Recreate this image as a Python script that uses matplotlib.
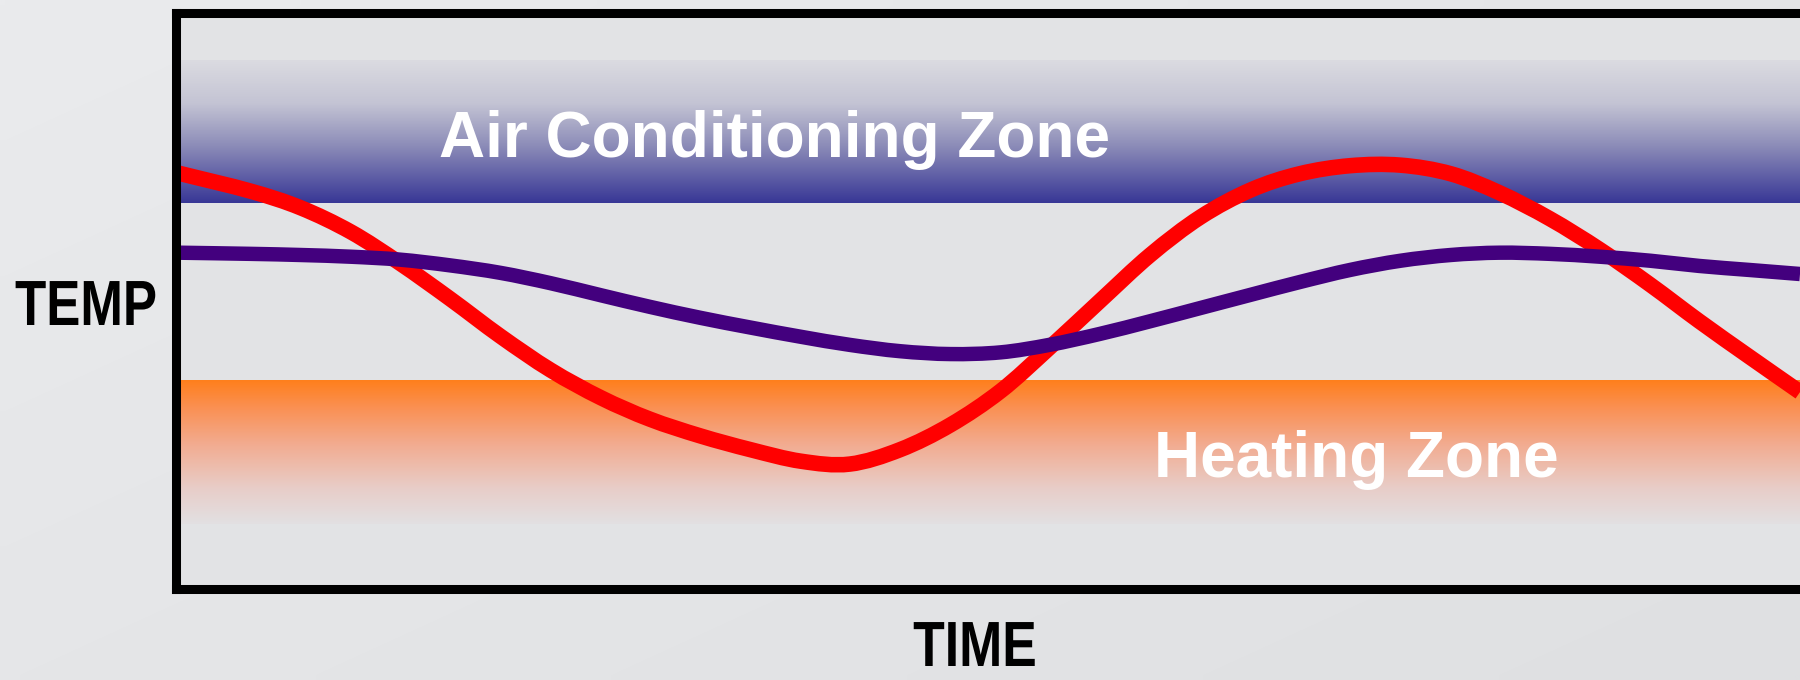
import numpy as np
import matplotlib
matplotlib.use("Agg")
import matplotlib.pyplot as plt
from matplotlib.path import Path
from matplotlib.patches import PathPatch
from matplotlib.patheffects import AbstractPathEffect
from matplotlib.transforms import Affine2D

# ---- data (time 0-100, temperature 0-100, arbitrary units) ----
time = [0.2, 4.6, 7.7, 10.8, 13.8, 16.9, 20.0, 23.1, 26.2, 29.2, 32.3, 35.4, 38.5, 41.5,
        44.6, 47.7, 50.8, 53.8, 56.9, 60.0, 63.1, 66.2, 69.2, 72.3, 75.4, 78.5, 81.5,
        84.6, 87.7, 90.8, 93.8, 96.9, 100.0]
outdoor_temp = [72.1, 69.0, 66.1, 61.9, 56.5, 50.3, 43.8, 37.9, 33.1, 29.4, 26.5, 24.1, 22.1, 21.6,
                24.1, 28.4, 34.3, 41.8, 49.9, 57.9, 64.5, 69.2, 72.0, 73.4, 73.5, 72.0, 68.7,
                64.2, 58.8, 52.7, 46.4, 40.2, 34.1]
indoor_temp = [58.3, 58.1, 57.9, 57.6, 57.1, 56.1, 54.8, 53.0, 50.9, 48.9, 47.0, 45.3, 43.7, 42.3,
               41.2, 40.7, 41.0, 42.3, 44.2, 46.4, 48.7, 51.0, 53.2, 55.3, 56.9, 57.9, 58.3,
               58.1, 57.6, 56.9, 56.0, 55.3, 54.6]

ac_zone = (66.9, 91.7)       # (low, high)
heat_zone = (11.2, 36.1)     # (low, high)

zone_labels = ["Air Conditioning Zone", "Heating Zone"]
zone_label_pos = [(36.9, 74.9), (72.7, 19.4)]
x_label = "TIME"
y_label = "TEMP"


class HStretch(AbstractPathEffect):
    """Draw text glyphs horizontally condensed about their centre."""

    def __init__(self, sx):
        super().__init__()
        self.sx = sx

    def draw_path(self, renderer, gc, tpath, affine, rgbFace=None):
        v = tpath.vertices
        if tpath.codes is not None:
            v = v[tpath.codes != Path.CLOSEPOLY]
        cx = 0.5 * (v[:, 0].min() + v[:, 0].max())
        t = Affine2D().translate(-cx, 0).scale(self.sx, 1.0).translate(cx, 0) + affine
        renderer.draw_path(gc, tpath, t, rgbFace)


def smooth_path(xs, ys):
    """Catmull-Rom curve through the points, as cubic Bezier segments."""
    p = np.column_stack([xs, ys]).astype(float)
    ext = np.vstack([2 * p[0] - p[1], p, 2 * p[-1] - p[-2]])
    verts = [p[0]]
    codes = [Path.MOVETO]
    for i in range(1, len(ext) - 2):
        p0, p1, p2, p3 = ext[i - 1], ext[i], ext[i + 1], ext[i + 2]
        verts += [p1 + (p2 - p0) / 6.0, p2 - (p3 - p1) / 6.0, p2]
        codes += [Path.CURVE4] * 3
    return Path(np.array(verts), codes)


def gradient(stops, n=256):
    pos = np.array([s[0] for s in stops])
    cols = np.array([s[1] for s in stops], dtype=float) / 255.0
    t = np.linspace(0, 1, n)
    rgb = np.stack([np.interp(t, pos, cols[:, i]) for i in range(3)], axis=1)
    return rgb[:, None, :]


# ---- figure ----
fig = plt.figure(figsize=(18, 6.8), dpi=100)
fig.patch.set_facecolor("#e3e4e6")

# subtle background shading of the slide
bg = fig.add_axes([0, 0, 1, 1], zorder=-10)
gy, gx = np.mgrid[0:1:68j, 0:1:180j]
shade = 0.55 * gx + 0.45 * gy
light = np.array([234, 235, 237]) / 255.0
dark = np.array([223, 224, 226]) / 255.0
bg.imshow(light + shade[..., None] * (dark - light), extent=(0, 1, 0, 1),
          origin="upper", aspect="auto", interpolation="bilinear")
bg.set_axis_off()

ax = fig.add_axes([175.5 / 1800, 91.5 / 680, 1 - 175.5 / 1800, 576 / 680])
ax.set_facecolor("#e2e3e5")

blue_grad = gradient([(0.0, (219, 219, 225)), (0.3, (196, 196, 212)),
                      (0.6, (140, 140, 184)), (1.0, (56, 55, 150))])
orange_grad = gradient([(0.0, (255, 127, 28)), (0.2, (250, 145, 85)),
                        (0.45, (242, 172, 145)), (0.75, (232, 205, 200)),
                        (1.0, (226, 224, 226))])

ax.imshow(blue_grad, extent=(0, 100, ac_zone[0], ac_zone[1]), aspect="auto",
          origin="upper", interpolation="bilinear", zorder=1)
ax.imshow(orange_grad, extent=(0, 100, heat_zone[0], heat_zone[1]), aspect="auto",
          origin="upper", interpolation="bilinear", zorder=1)

ax.add_patch(PathPatch(smooth_path(time, outdoor_temp), fill=False,
                       edgecolor="#ff0000", lw=11.2, capstyle="butt",
                       joinstyle="round", zorder=3))
ax.add_patch(PathPatch(smooth_path(time, indoor_temp), fill=False,
                       edgecolor="#43007e", lw=10.4, capstyle="butt",
                       joinstyle="round", zorder=4))

for lab, (tx, ty) in zip(zone_labels, zone_label_pos):
    ax.text(tx, ty, lab, color="white", fontsize=46, fontweight="bold",
            family=["Liberation Sans", "DejaVu Sans"], ha="center", va="baseline", zorder=5)

ax.set_xlim(0, 100)
ax.set_ylim(0, 100)
ax.set_xticks([])
ax.set_yticks([])
for side in ["left", "top", "bottom"]:
    ax.spines[side].set_linewidth(6.5)
    ax.spines[side].set_color("black")
    ax.spines[side].set_zorder(6)
ax.spines["right"].set_visible(False)

fig.text(86 / 1800, 1 - 325 / 680, y_label, fontsize=46, fontweight="bold",
         family=["Liberation Sans", "DejaVu Sans"], ha="center", va="baseline",
         color="black", path_effects=[HStretch(0.80)])
fig.text(975 / 1800, 1 / 680, x_label, fontsize=46, fontweight="bold",
         family=["Liberation Sans", "DejaVu Sans"], ha="center", va="bottom",
         color="black", path_effects=[HStretch(0.81)])

fig.savefig("out.png", dpi=100, facecolor=fig.get_facecolor())
